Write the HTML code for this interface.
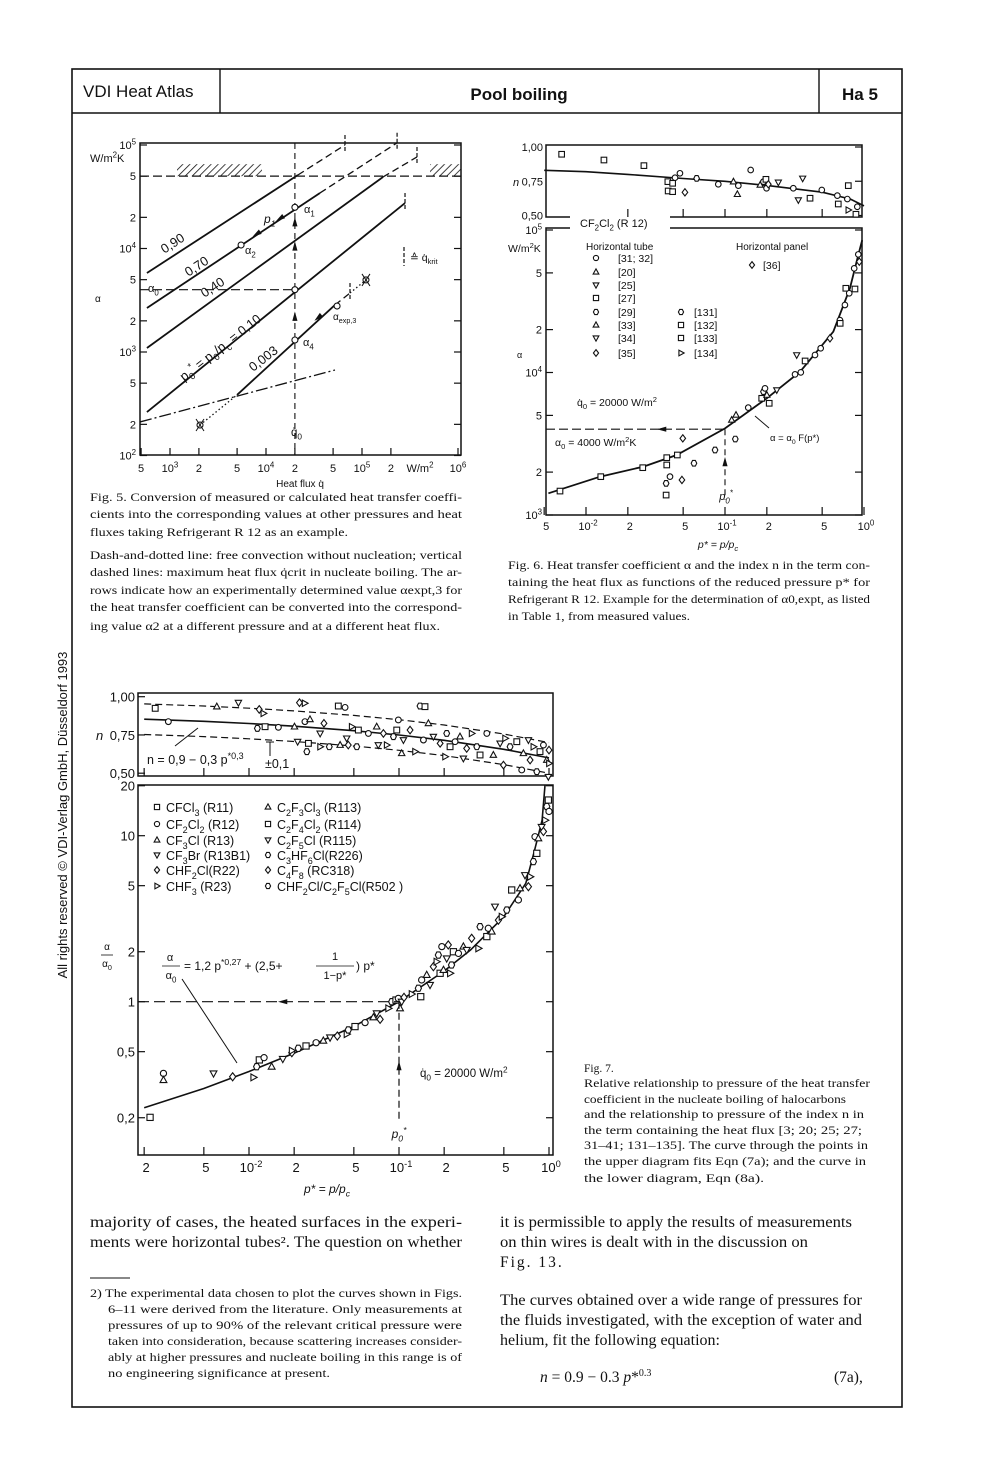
<!DOCTYPE html>
<html><head><meta charset="utf-8">
<style>
html,body{margin:0;padding:0;background:#fff;width:1000px;height:1473px;overflow:hidden}
svg text{font-family:"Liberation Sans",sans-serif;fill:#111}
svg text.serif{font-family:"Liberation Serif",serif}
</style></head>
<body>
<svg id="page" width="1000" height="1473" viewBox="0 0 1000 1473" xmlns="http://www.w3.org/2000/svg">
<defs>
<pattern id="hatch" patternUnits="userSpaceOnUse" width="5" height="5" patternTransform="rotate(45)">
<line x1="0" y1="0" x2="0" y2="5" stroke="#111" stroke-width="1.6"/>
</pattern>
</defs>
<rect x="72" y="69" width="830" height="1338" fill="none" stroke="#111" stroke-width="1.6"/>
<line x1="72" y1="113" x2="902" y2="113" stroke="#111" stroke-width="1.6"/>
<line x1="220" y1="69" x2="220" y2="113" stroke="#111" stroke-width="1.4"/>
<line x1="819" y1="69" x2="819" y2="113" stroke="#111" stroke-width="1.4"/>
<text x="83" y="97" font-size="17">VDI Heat Atlas</text>
<text x="519" y="100" font-size="17" font-weight="bold" text-anchor="middle">Pool boiling</text>
<text x="842" y="100" font-size="17" font-weight="bold">Ha 5</text>
<text transform="translate(67,815) rotate(-90)" font-size="13" text-anchor="middle" fill="#333">All rights reserved © VDI-Verlag GmbH, Düsseldorf 1993</text>

<g class="cap" font-size="12">
<text class="serif" x="90" y="501" textLength="372" lengthAdjust="spacingAndGlyphs">Fig. 5. Conversion of measured or calculated heat transfer coeffi-</text>
<text class="serif" x="90" y="518" textLength="372" lengthAdjust="spacingAndGlyphs">cients into the corresponding values at other pressures and heat</text>
<text class="serif" x="90" y="536" textLength="258" lengthAdjust="spacingAndGlyphs">fluxes taking Refrigerant R 12 as an example.</text>
<text class="serif" x="90" y="559" textLength="372" lengthAdjust="spacingAndGlyphs">Dash-and-dotted line: free convection without nucleation; vertical</text>
<text class="serif" x="90" y="576" textLength="372" lengthAdjust="spacingAndGlyphs">dashed lines: maximum heat flux q̇crit in nucleate boiling. The ar-</text>
<text class="serif" x="90" y="594" textLength="372" lengthAdjust="spacingAndGlyphs">rows indicate how an experimentally determined value αexpt,3 for</text>
<text class="serif" x="90" y="611" textLength="372" lengthAdjust="spacingAndGlyphs">the heat transfer coefficient can be converted into the correspond-</text>
<text class="serif" x="90" y="630" textLength="350" lengthAdjust="spacingAndGlyphs">ing value α2 at a different pressure and at a different heat flux.</text>
</g>
<g font-size="12">
<text class="serif" x="508" y="569" textLength="362" lengthAdjust="spacingAndGlyphs">Fig. 6. Heat transfer coefficient α and the index n in the term con-</text>
<text class="serif" x="508" y="586" textLength="362" lengthAdjust="spacingAndGlyphs">taining the heat flux as functions of the reduced pressure p* for</text>
<text class="serif" x="508" y="603" textLength="362" lengthAdjust="spacingAndGlyphs">Refrigerant R 12. Example for the determination of α0,expt, as listed</text>
<text class="serif" x="508" y="620" textLength="182" lengthAdjust="spacingAndGlyphs">in Table 1, from measured values.</text>
</g>
<g font-size="11.5">
<text class="serif" x="584" y="1072">Fig. 7.</text>
<text class="serif" x="584" y="1087" textLength="286" lengthAdjust="spacingAndGlyphs">Relative relationship to pressure of the heat transfer</text>
<text class="serif" x="584" y="1103" textLength="262" lengthAdjust="spacingAndGlyphs">coefficient in the nucleate boiling of halocarbons</text>
<text class="serif" x="584" y="1118" textLength="280" lengthAdjust="spacingAndGlyphs">and the relationship to pressure of the index n in</text>
<text class="serif" x="584" y="1134" textLength="278" lengthAdjust="spacingAndGlyphs">the term containing the heat flux [3; 20; 25; 27;</text>
<text class="serif" x="584" y="1149" textLength="284" lengthAdjust="spacingAndGlyphs">31–41; 131–135]. The curve through the points in</text>
<text class="serif" x="584" y="1165" textLength="282" lengthAdjust="spacingAndGlyphs">the upper diagram fits Eqn (7a); and the curve in</text>
<text class="serif" x="584" y="1182" textLength="180" lengthAdjust="spacingAndGlyphs">the lower diagram, Eqn (8a).</text>
</g>

<g font-size="15.5">
<text class="serif" x="90" y="1227" textLength="372" lengthAdjust="spacingAndGlyphs">majority of cases, the heated surfaces in the experi-</text>
<text class="serif" x="90" y="1247" textLength="372" lengthAdjust="spacingAndGlyphs">ments were horizontal tubes². The question on whether</text>
<line x1="90" y1="1278" x2="130" y2="1278" stroke="#111" stroke-width="1"/>
</g>
<g font-size="11.5">
<text class="serif" x="90" y="1297" textLength="372" lengthAdjust="spacingAndGlyphs">2) The experimental data chosen to plot the curves shown in Figs.</text>
<text class="serif" x="108" y="1313" textLength="354" lengthAdjust="spacingAndGlyphs">6–11 were derived from the literature. Only measurements at</text>
<text class="serif" x="108" y="1329" textLength="354" lengthAdjust="spacingAndGlyphs">pressures of up to 90% of the relevant critical pressure were</text>
<text class="serif" x="108" y="1345" textLength="354" lengthAdjust="spacingAndGlyphs">taken into consideration, because scattering increases consider-</text>
<text class="serif" x="108" y="1361" textLength="354" lengthAdjust="spacingAndGlyphs">ably at higher pressures and nucleate boiling in this range is of</text>
<text class="serif" x="108" y="1377" textLength="222" lengthAdjust="spacingAndGlyphs">no engineering significance at present.</text>
</g>
<g font-size="15.5">
<text class="serif" x="500" y="1227" textLength="352" lengthAdjust="spacingAndGlyphs">it is permissible to apply the results of measurements</text>
<text class="serif" x="500" y="1247" textLength="308" lengthAdjust="spacingAndGlyphs">on thin wires is dealt with in the discussion on</text>
<text class="serif" x="500" y="1267" letter-spacing="2">Fig. 13.</text>
<text class="serif" x="500" y="1305" textLength="362" lengthAdjust="spacingAndGlyphs">The curves obtained over a wide range of pressures for</text>
<text class="serif" x="500" y="1325" textLength="362" lengthAdjust="spacingAndGlyphs">the fluids investigated, with the exception of water and</text>
<text class="serif" x="500" y="1345" textLength="220" lengthAdjust="spacingAndGlyphs">helium, fit the following equation:</text>
<text class="serif" x="540" y="1382"><tspan font-style="italic">n</tspan> = 0.9 − 0.3 <tspan font-style="italic">p</tspan>*<tspan dy="-6" font-size="10">0.3</tspan></text>
<text class="serif" x="834" y="1382">(7a),</text>
</g>

<g id="fig5"></g>
<g id="fig6"></g>
<g id="fig7"></g>
</svg>

<script>
// ---------- Figure 5 data ----------
const f5LineLabels = ['0,90','0,70','0,40','0,10','0,003'];
const f5StartQ = [575,575,575,575,4990];
const f5StartA = [5800,2660,1094,263,385];
const f5SolidEndQ = [21500,36500,165600,280600,52300];
const f5SolidEndA = [51300,34400,49100,27500,2850];
const f5DashEndQ = [66500,232000,374000,280600,75000];
const f5DashEndA = [100000,105000,76600,27500,3715];
const f5PointQ = [20000,5500,20000,20000,55000];
const f5PointA = [25000,10800,4000,1306,2780];
const f5YTicks = [1e5,5e4,2e4,1e4,5e3,2e3,1e3,500,200,100];
const f5YLabels = ['10^{5}','5','2','10^{4}','5','2','10^{3}','5','2','10^{2}'];
const f5XTicks = [500,1e3,2e3,5e3,1e4,2e4,5e4,1e5,2e5,1e6];
const f5XLabels = ['5','10^{3}','2','5','10^{4}','2','5','10^{5}','2','10^{6}'];
const f5FreeConvQ = [487,52300];
const f5FreeConvA = [211,670];
const f5Q0 = 20000;
const f5Alpha0 = 4000;
const f5AlphaMaxLine = 50000;

// ---------- Figure 6 data ----------
const f6nP = [0.00668,0.01346,0.0261,0.0388,0.039,0.042,0.042,0.0437,0.0474,0.0515,0.0625,0.0895,0.115,0.1227,0.1247,0.153,0.179,0.189,0.197,0.199,0.205,0.242,0.31,0.337,0.362,0.409,0.497,0.643,0.653,0.759,0.771,0.771,0.875,0.895];
const f6nN = [0.947,0.905,0.864,0.747,0.679,0.674,0.735,0.776,0.808,0.669,0.771,0.728,0.747,0.655,0.718,0.832,0.723,0.747,0.764,0.699,0.728,0.742,0.699,0.613,0.771,0.626,0.686,0.645,0.584,0.620,0.718,0.54,0.509,0.564];
const f6nSym = ['s','s','s','s','s','s','s','o','o','d','h','o','t','t','o','o','t','o','s','o','d','v','o','v','v','s','o','o','s','o','s','r','s','o'];
const f6aP = [0.0065,0.01277,0.0256,0.0381,0.0381,0.0377,0.0377,0.0402,0.0454,0.0497,0.049,0.0598,0.0848,0.1117,0.12,0.1186,0.147,0.1837,0.189,0.194,0.2,0.208,0.2357,0.319,0.328,0.351,0.377,0.444,0.488,0.569,0.671,0.674,0.729,0.74,0.783,0.861,0.85,0.91,0.925];
const f6aA = [1472,1858,2148,2525,2244,1667,1380,1858,2637,3450,1762,2307,2858,4645,5035,3412,5666,6590,7335,7740,6950,6080,7530,9700,13270,10020,12050,13270,14790,17380,23330,22130,29780,38990,35980,38550,53800,67400,59950];
const f6aSym = ['s','s','s','s','s','h','s','o','s','d','d','h','h','t','t','h','o','s','h','o','t','s','v','o','v','o','s','o','o','d','o','s','o','s','o','s','o','o','d'];
const f6nCurveP = [0.005,0.01,0.02,0.05,0.1,0.2,0.5,0.8,1.0];
const f6nCurveN = [0.83,0.82,0.80,0.77,0.75,0.72,0.67,0.62,0.57];
const f6aCurveP = [0.00536,0.0126,0.0258,0.0449,0.1,0.2,0.347,0.601,0.792,0.91,0.97];
const f6aCurveA = [1420,1858,2183,2636,4055,6590,10130,19320,38990,66800,85000];
const f6XTicks = [0.005,0.01,0.02,0.05,0.1,0.2,0.5,1];
const f6XLabels = ['5','10^{-2}','2','5','10^{-1}','2','5','10^{0}'];
const f6nTicks = [1.0,0.75,0.5];
const f6nLabels = ['1,00','0,75','0,50'];
const f6aTicks = [1e5,5e4,2e4,1e4,5e3,2e3,1e3];
const f6aLabels = ['10^{5}','5','2','10^{4}','5','2','10^{3}'];
const f6P0 = 0.1;
const f6Alpha0 = 4000;

// ---------- Figure 7 data ----------
const f7aP = [0.00219,0.00269,0.00269,0.0058,0.00778,0.0107,0.01125,0.01172,0.0126,0.01416,0.0168,0.0193,0.0193,0.0213,0.024,0.028,0.0313,0.0347,0.0388,0.0448,0.0459,0.0509,0.0594,0.0675,0.071,0.0748,0.0849,0.0894,0.0955,0.099,0.1016,0.1042,0.108,0.1216,0.1346,0.1396,0.1416,0.153,0.161,0.1695,0.178,0.183,0.188,0.193,0.198,0.208,0.213,0.219,0.224,0.2305,0.249,0.2686,0.2826,0.305,0.338,0.347,0.385,0.394,0.415,0.4365,0.46,0.484,0.523,0.564,0.625,0.641,0.692,0.729,0.748,0.787,0.829,0.807,0.849,0.893,0.918,0.942,0.966,0.99,1.0];
const f7aR = [0.201,0.37,0.337,0.37,0.353,0.35,0.406,0.446,0.46,0.406,0.452,0.493,0.507,0.524,0.541,0.566,0.582,0.609,0.621,0.638,0.676,0.708,0.748,0.805,0.851,0.783,0.912,1.0,1.023,1.047,0.912,1.0,1.062,1.112,1.205,1.072,1.352,1.449,1.262,1.626,1.742,1.91,1.483,2.147,1.553,1.824,2.198,1.483,1.664,2.0,1.954,2.147,2.05,2.41,2.096,2.83,2.467,2.767,2.643,3.74,3.10,3.25,3.565,4.71,4.10,4.82,5.79,4.93,5.66,6.98,7.83,9.86,9.64,11.3,10.6,12.4,15.0,16.4,14.0];
const f7nP = [0.00237,0.0029,0.0061,0.0085,0.0117,0.01247,0.01137,0.0128,0.0157,0.0201,0.0211,0.0217,0.0235,0.0243,0.0249,0.0236,0.0255,0.0298,0.0316,0.0298,0.0343,0.0394,0.0437,0.0405,0.0448,0.0459,0.0484,0.0523,0.0536,0.0625,0.071,0.0728,0.0787,0.0828,0.0918,0.0966,0.099,0.1042,0.107,0.1185,0.128,0.138,0.149,0.1455,0.157,0.1695,0.188,0.203,0.208,0.219,0.2365,0.255,0.2686,0.2826,0.305,0.33,0.347,0.385,0.4256,0.472,0.497,0.51,0.55,0.61,0.658,0.675,0.729,0.748,0.787,0.829,0.871,0.918,0.966,0.99,1.0,1.0];
const f7nN = [0.924,0.837,0.935,0.961,0.917,0.891,0.793,0.804,0.800,0.804,0.706,0.961,0.957,0.641,0.695,0.837,0.852,0.760,0.826,0.673,0.673,0.939,0.930,0.684,0.728,0.684,0.804,0.673,0.782,0.760,0.804,0.684,0.760,0.684,0.739,0.782,0.848,0.630,0.717,0.782,0.641,0.939,0.935,0.717,0.826,0.739,0.695,0.608,0.760,0.673,0.706,0.739,0.597,0.662,0.760,0.673,0.619,0.760,0.619,0.695,0.553,0.728,0.673,0.706,0.521,0.630,0.717,0.586,0.673,0.510,0.641,0.684,0.586,0.477,0.651,0.564];
const f7nCurveP = [0.002,0.005,0.01,0.02,0.05,0.1,0.2,0.5,1.0];
const f7nCurveN = [0.853,0.839,0.825,0.807,0.778,0.75,0.715,0.656,0.6];
const f7nBand = 0.1;
const f7rCurveP = [0.002,0.005,0.01,0.02,0.05,0.1,0.2,0.3,0.5,0.7,0.8,0.9,0.95];
const f7rCurveR = [0.23,0.30,0.38,0.49,0.71,1.00,1.53,2.05,3.25,5.17,8.13,12.4,22.6];
const f7XTicks = [0.002,0.005,0.01,0.02,0.05,0.1,0.2,0.5,1];
const f7XLabels = ['2','5','10^{-2}','2','5','10^{-1}','2','5','10^{0}'];
const f7nTicks = [1.0,0.75,0.5];
const f7nLabels = ['1,00','0,75','0,50'];
const f7rTicks = [20,10,5,2,1,0.5,0.2];
const f7rLabels = ['20','10','5','2','1','0,5','0,2'];
const f7P0 = 0.1;

// ---------- helpers ----------
const NS = 'http://www.w3.org/2000/svg';
const INK = '#111';
function mk(tag, parent, attrs) {
  const e = document.createElementNS(NS, tag);
  for (const k in attrs) e.setAttribute(k, attrs[k]);
  parent.appendChild(e);
  return e;
}
function txt(parent, x, y, s, size, anchor, name, italic) {
  const t = mk('text', parent, {x: x, y: y, 'font-size': size, 'text-anchor': anchor || 'start'});
  
  
  if (italic) t.setAttribute('font-style', 'italic');
  const parts = s.split(/(\^\{[^}]*\}|_\{[^}]*\})/);
  let off = 0;
  parts.forEach(p => {
    if (!p) return;
    let target = 0, content = p, fs = size;
    if (p[0] === '^') { target = -size * 0.4; content = p.slice(2, -1); fs = size * 0.72; }
    else if (p[0] === '_') { target = size * 0.3; content = p.slice(2, -1); fs = size * 0.72; }
    const ts = mk('tspan', t, {dy: target - off, 'font-size': fs});
    ts.textContent = content;
    off = target;
  });
  return t;
}
function line(parent, x1, y1, x2, y2, name, dash, w) {
  const l = mk('line', parent, {x1: x1, y1: y1, x2: x2, y2: y2, stroke: INK, 'stroke-width': w || 1.2});
  if (dash) l.setAttribute('stroke-dasharray', dash);
  
  
  return l;
}
function polyline(parent, pts, name, dash, w) {
  const p = mk('polyline', parent, {points: pts.map(q => q[0].toFixed(1) + ',' + q[1].toFixed(1)).join(' '), fill: 'none', stroke: INK, 'stroke-width': w || 1.5});
  if (dash) p.setAttribute('stroke-dasharray', dash);
  
  
  return p;
}
function rectFrame(parent, x, y, w, h, name) {
  const r = mk('rect', parent, {x: x, y: y, width: w, height: h, fill: 'none', stroke: INK, 'stroke-width': 1.5});
  
  
  return r;
}
function arrow(parent, x, y, ang, name) {
  const s = 5, a = ang * Math.PI / 180;
  const pts = [[x + Math.cos(a) * s, y + Math.sin(a) * s],
    [x + Math.cos(a + 2.6) * s, y + Math.sin(a + 2.6) * s],
    [x + Math.cos(a - 2.6) * s, y + Math.sin(a - 2.6) * s]];
  const p = mk('polygon', parent, {points: pts.map(q => q.join(',')).join(' '), fill: INK});
  
  
}
function marker(parent, type, x, y, s, name) {
  let e;
  const st = {fill: '#fff', stroke: INK, 'stroke-width': 1.1};
  if (type === 'o') e = mk('circle', parent, Object.assign({cx: x, cy: y, r: s}, st));
  else if (type === 's') e = mk('rect', parent, Object.assign({x: x - s, y: y - s, width: 2 * s, height: 2 * s}, st));
  else {
    let pts;
    if (type === 't') pts = [[x, y - s * 1.2], [x + s * 1.1, y + s * 0.8], [x - s * 1.1, y + s * 0.8]];
    else if (type === 'v') pts = [[x, y + s * 1.2], [x + s * 1.1, y - s * 0.8], [x - s * 1.1, y - s * 0.8]];
    else if (type === 'd') pts = [[x, y - s * 1.3], [x + s, y], [x, y + s * 1.3], [x - s, y]];
    else if (type === 'r') pts = [[x + s * 1.2, y], [x - s * 0.8, y - s * 1.1], [x - s * 0.8, y + s * 1.1]];
    else pts = [[x - s * 0.5, y - s], [x + s * 0.5, y - s], [x + s, y], [x + s * 0.5, y + s], [x - s * 0.5, y + s], [x - s, y]];
    e = mk('polygon', parent, Object.assign({points: pts.map(q => q.join(',')).join(' ')}, st));
  }
  
  
  return e;
}
const L = Math.log10;

// ================= FIGURE 5 =================
(function () {
  const g = document.getElementById('fig5');
  const X = q => 170 + (L(q) - 3) * 96;
  const Y = a => 145 + (5 - L(a)) * 103.5;
  const left = 140, right = 461, top = 143, bottom = 455;
  const h1 = mk('rect', g, {x: 177, y: Y(f5AlphaMaxLine) - 12, width: 85, height: 12, fill: 'url(#hatch)'});
  
  
  const h2 = mk('rect', g, {x: 430, y: Y(f5AlphaMaxLine) - 12, width: 31, height: 12, fill: 'url(#hatch)'});
  
  
  line(g, left, Y(f5AlphaMaxLine), right, Y(f5AlphaMaxLine), 'alpha-limit-dashed-line', '9,4', 1.2);
  rectFrame(g, left, top, right - left, bottom - top, 'fig5-plot-frame');
  f5YTicks.forEach((v, i) => {
    line(g, left, Y(v), left + 7, Y(v), 'y-tick', null, 1.2);
    line(g, right - 7, Y(v), right, Y(v), 'y-tick-right', null, 1.2);
    txt(g, 136, Y(v) + 4, f5YLabels[i], 11, 'end', 'y-tick-label');
  });
  f5XTicks.forEach((v, i) => {
    line(g, X(v), bottom, X(v), bottom - 7, 'x-tick', null, 1.2);
    txt(g, X(v), 472, f5XLabels[i], 11, 'middle', 'x-tick-label');
  });
  txt(g, 420, 472, 'W/m^{2}', 11, 'middle', 'x-unit-label');
  txt(g, 300, 487, 'Heat flux q̇', 10, 'middle', 'x-axis-title');
  txt(g, 90, 162, 'W/m^{2}K', 11, 'start', 'y-unit-label');
  txt(g, 95, 302, 'α', 10, 'start', 'y-axis-title');
  line(g, X(f5Q0), top, X(f5Q0), bottom, 'q0-dashed-line', '6,4', 1.1);
  line(g, left, Y(f5Alpha0), X(f5Q0), Y(f5Alpha0), 'alpha0-dashed-line', '9,4', 1.1);
  f5LineLabels.forEach((lab, i) => {
    line(g, X(f5StartQ[i]), Y(f5StartA[i]), X(f5SolidEndQ[i]), Y(f5SolidEndA[i]), 'pressure-line-' + lab, null, 1.8);
    if (f5DashEndQ[i] !== f5SolidEndQ[i]) line(g, X(f5SolidEndQ[i]), Y(f5SolidEndA[i]), X(f5DashEndQ[i]), Y(f5DashEndA[i]), 'pressure-line-extension', '7,4', 1.3);
    line(g, X(f5DashEndQ[i]), Y(f5DashEndA[i]) - 10, X(f5DashEndQ[i]), Y(f5DashEndA[i]) + 8, 'qcrit-marker', '4,2', 1.2);
  });
  line(g, X(f5FreeConvQ[0]), Y(f5FreeConvA[0]), X(f5FreeConvQ[1]), Y(f5FreeConvA[1]), 'free-convection-line', '12,3,2,3', 1.3);
  line(g, X(2054), Y(197), X(f5StartQ[4]), Y(f5StartA[4]), 'dotted-transition-line', '1.5,2.5', 1.3);
  line(g, X(f5DashEndQ[4]), Y(f5DashEndA[4]), X(110000), Y(4970), 'dotted-extension-line', '1.5,2.5', 1.3);
  [[2054, 197], [110000, 4970]].forEach(p => {
    marker(g, 'o', X(p[0]), Y(p[1]), 3, 'crossed-point');
    line(g, X(p[0]) - 4, Y(p[1]) - 6, X(p[0]) + 4, Y(p[1]) + 6, 'cross-stroke', null, 1);
    line(g, X(p[0]) + 4, Y(p[1]) - 6, X(p[0]) - 4, Y(p[1]) + 6, 'cross-stroke', null, 1);
  });
  const ptNames = ['alpha-1-point', 'alpha-2-point', 'alpha-0-point', 'alpha-4-point', 'alpha-exp3-point'];
  f5PointQ.forEach((q, i) => marker(g, 'o', X(q), Y(f5PointA[i]), 3, ptNames[i]));
  arrow(g, X(f5Q0), Y(2200), -90, 'conversion-arrow');
  arrow(g, X(f5Q0), Y(10500), -90, 'conversion-arrow');
  arrow(g, X(f5Q0), Y(18000), -90, 'conversion-arrow');
  arrow(g, X(14000), Y(19500), 147, 'conversion-arrow');
  arrow(g, X(8000), Y(13800), 147, 'conversion-arrow');
  arrow(g, X(35000), Y(2150), 140, 'conversion-arrow');
  const lab = (x, y, s, rot, name, size) => {
    const t = txt(g, x, y, s, size || 13, 'middle', name);
    if (rot) t.setAttribute('transform', 'rotate(' + rot + ' ' + x + ' ' + y + ')');
  };
  lab(175, 247, '0,90', -33, 'line-label-0.90');
  lab(199, 270, '0,70', -33, 'line-label-0.70');
  lab(215, 291, '0,40', -33, 'line-label-0.40');
  lab(223, 351, 'p_{0}^{*} = p_{0}/p_{c} = 0,10', -38, 'line-label-0.10');
  lab(266, 362, '0,003', -38, 'line-label-0.003');
  txt(g, 264, 223, 'p_{1}', 12, 'start', 'p1-label', true);
  txt(g, 304, 213, 'α_{1}', 11, 'start', 'alpha1-label');
  txt(g, 245, 254, 'α_{2}', 11, 'start', 'alpha2-label');
  txt(g, 148, 292, 'α_{0}', 11, 'start', 'alpha0-label');
  txt(g, 303, 346, 'α_{4}', 11, 'start', 'alpha4-label');
  txt(g, 333, 320, 'α_{exp,3}', 10, 'start', 'alpha-exp3-label');
  txt(g, 291, 436, 'q̇_{0}', 11.5, 'start', 'q0-label');
  line(g, 404, 247, 404, 266, 'qcrit-legend-marker', '4,2', 1.2);
  txt(g, 410, 261, '≙ q̇_{krit}', 10.5, 'start', 'qcrit-legend-label');
})();

// ================= FIGURE 6 =================
(function () {
  const g = document.getElementById('fig6');
  const X = p => 725 + (L(p) + 1) * 139;
  const Yn = n => 147 + (1 - n) * 137;
  const Ya = a => 515 - (L(a) - 3) * 142.5;
  const left = 546, right = 862;
  rectFrame(g, left, 145, right - left, 72, 'fig6-n-panel-frame');
  rectFrame(g, left, 228, right - left, 287, 'fig6-alpha-panel-frame');
  const bg = mk('rect', g, {x: 570, y: 214, width: 100, height: 16, fill: '#fff'});
  
  
  txt(g, 580, 227, 'CF_{2}Cl_{2} (R 12)', 11, 'start', 'fluid-label');
  f6nTicks.forEach((v, i) => {
    line(g, right - 7, Yn(v), right, Yn(v), 'n-tick', null, 1.2);
    txt(g, 543, Yn(v) + 4, f6nLabels[i], 11, 'end', 'n-tick-label');
  });
  [0.02, 0.05, 0.1, 0.2, 0.5].forEach(v => line(g, X(v), 217, X(v), 209, 'n-panel-x-tick', null, 1.2));
  txt(g, 513, 186, 'n', 11, 'start', 'n-axis-title', true);
  f6aTicks.forEach((v, i) => {
    line(g, left, Ya(v), left + 7, Ya(v), 'alpha-tick', null, 1.2);
    line(g, right - 7, Ya(v), right, Ya(v), 'alpha-tick-right', null, 1.2);
    txt(g, 542, Ya(v) + 4, f6aLabels[i], 11, 'end', 'alpha-tick-label');
  });
  txt(g, 508, 252, 'W/m^{2}K', 10.5, 'start', 'alpha-unit-label');
  txt(g, 517, 358, 'α', 9, 'start', 'alpha-axis-title');
  f6XTicks.forEach((v, i) => {
    line(g, X(v), 515, X(v), 507, 'x-tick', null, 1.2);
    txt(g, X(v) + 2, 530, f6XLabels[i], 11, 'middle', 'x-tick-label');
  });
  txt(g, 718, 548, 'p* = p/p_{c}', 10.5, 'middle', 'x-axis-title', true);
  polyline(g, f6nCurveP.map((p, i) => [X(p), Yn(f6nCurveN[i])]), 'n-fit-curve', null, 1.6);
  polyline(g, f6aCurveP.map((p, i) => [X(p), Ya(f6aCurveA[i])]), 'alpha-fit-curve', null, 1.8);
  f6nP.forEach((p, i) => marker(g, f6nSym[i], X(p), Yn(f6nN[i]), 2.8, 'n-data-point'));
  f6aP.forEach((p, i) => marker(g, f6aSym[i], X(p), Ya(f6aA[i]), 2.8, 'alpha-data-point'));
  line(g, left, Ya(f6Alpha0), X(f6P0), Ya(f6Alpha0), 'alpha0-dashed-line', '9,4', 1.1);
  arrow(g, 662, Ya(f6Alpha0), 180, 'alpha0-arrow');
  line(g, X(f6P0), Ya(f6Alpha0), X(f6P0), 500, 'p0-dashed-line', '6,4', 1.1);
  arrow(g, X(f6P0), 462, -90, 'p0-arrow');
  txt(g, 726, 500, 'p_{0}^{*}', 11, 'middle', 'p0-label', true);
  txt(g, 577, 406, 'q̇_{0} = 20000 W/m^{2}', 10.5, 'start', 'q0-label');
  txt(g, 555, 446, 'α_{0} = 4000 W/m^{2}K', 10.5, 'start', 'alpha0-label');
  line(g, 755, 416, 769, 428, 'fit-label-leader', null, 1);
  txt(g, 770, 441, 'α = α_{0} F(p*)', 9.5, 'start', 'fit-curve-label');
  txt(g, 586, 250, 'Horizontal tube', 10, 'start', 'legend-heading-tube');
  txt(g, 736, 250, 'Horizontal panel', 10, 'start', 'legend-heading-panel');
  const legL = [['o', '[31; 32]'], ['t', '[20]'], ['v', '[25]'], ['s', '[27]'], ['h', '[29]'], ['t', '[33]'], ['v', '[34]'], ['d', '[35]']];
  const legY = [262, 276, 289, 302, 316, 329, 342, 357];
  legL.forEach((e, i) => {
    marker(g, e[0], 596, legY[i] - 4, 2.6, 'legend-symbol');
    txt(g, 618, legY[i], e[1], 10.5, 'start', 'legend-entry');
  });
  const legR = [['l', '[131]'], ['s', '[132]'], ['s', '[133]'], ['r', '[134]']];
  legR.forEach((e, i) => {
    marker(g, e[0], 681, legY[i + 4] - 4, 2.6, 'legend-symbol');
    txt(g, 694, legY[i + 4], e[1], 10.5, 'start', 'legend-entry');
  });
  marker(g, 'd', 752, 265, 2.6, 'legend-symbol');
  txt(g, 763, 269, '[36]', 10.5, 'start', 'legend-entry');
})();

// ================= FIGURE 7 =================
(function () {
  const g = document.getElementById('fig7');
  const X = p => 399 + (L(p) + 1) * 150;
  const Yn = n => 696.7 + (1 - n) * 153;
  const Yr = r => 1001.7 - L(r) * 166;
  const left = 138, right = 553;
  rectFrame(g, left, 693, right - left, 83, 'fig7-n-panel-frame');
  rectFrame(g, left, 785, right - left, 370, 'fig7-ratio-panel-frame');
  f7nTicks.forEach((v, i) => {
    line(g, left, Yn(v), left + 7, Yn(v), 'n-tick', null, 1.2);
    txt(g, 135, Yn(v) + 5, f7nLabels[i], 13, 'end', 'n-tick-label');
  });
  txt(g, 96, 740, 'n', 13, 'start', 'n-axis-title', true);
  f7rTicks.forEach((v, i) => {
    line(g, left, Yr(v), left + 7, Yr(v), 'ratio-tick', null, 1.2);
    line(g, right - 7, Yr(v), right, Yr(v), 'ratio-tick-right', null, 1.2);
    txt(g, 135, Yr(v) + 5, f7rLabels[i], 13, 'end', 'ratio-tick-label');
  });
  txt(g, 107, 950, 'α', 10, 'middle', 'ratio-axis-title-num');
  line(g, 101, 955, 113, 955, 'ratio-axis-title-bar', null, 0.8);
  txt(g, 107, 967, 'α_{0}', 10, 'middle', 'ratio-axis-title-den');
  f7XTicks.forEach((v, i) => {
    line(g, X(v), 1155, X(v), 1147, 'x-tick', null, 1.2);
    line(g, X(v), 776, X(v), 768, 'n-panel-x-tick', null, 1.2);
    txt(g, X(v) + 2, 1172, f7XLabels[i], 13, 'middle', 'x-tick-label');
  });
  txt(g, 327, 1193, 'p* = p/p_{c}', 12, 'middle', 'x-axis-title', true);
  polyline(g, f7nCurveP.map((p, i) => [X(p), Yn(f7nCurveN[i])]), 'n-fit-curve', null, 1.6);
  polyline(g, f7nCurveP.map((p, i) => [X(p), Yn(f7nCurveN[i] + f7nBand)]), 'n-upper-band', '7,4', 1.2);
  polyline(g, f7nCurveP.map((p, i) => [X(p), Yn(f7nCurveN[i] - f7nBand)]), 'n-lower-band', '7,4', 1.2);
  const clip = mk('clipPath', g, {id: 'f7clip'});
  mk('rect', clip, {x: left, y: 785, width: right - left, height: 370});
  const cg = mk('g', g, {'clip-path': 'url(#f7clip)'});
  
  
  polyline(cg, f7rCurveP.map((p, i) => [X(p), Yr(f7rCurveR[i])]), 'ratio-fit-curve', null, 1.6);
  const sym = 'sotvdrh';
  f7nP.forEach((p, i) => marker(g, sym[i % 7], X(p), Yn(f7nN[i]), 2.9, 'n-data-point'));
  f7aP.forEach((p, i) => marker(cg, sym[i % 7], X(p), Yr(f7aR[i]), 3.1, 'ratio-data-point'));
  line(g, left, Yr(1), X(f7P0), Yr(1), 'unity-dashed-line', '11,5', 1.2);
  arrow(g, 283, Yr(1), 180, 'unity-arrow');
  line(g, X(f7P0), Yr(1), X(f7P0), 1120, 'p0-dashed-line', '7,4', 1.2);
  arrow(g, X(f7P0), 1066, -90, 'p0-arrow');
  txt(g, 399, 1138, 'p_{0}^{*}', 12, 'middle', 'p0-label', true);
  txt(g, 420, 1077, 'q̇_{0} = 20000 W/m^{2}', 11.5, 'start', 'q0-label');
  txt(g, 170, 961, 'α', 11, 'middle', 'formula-num');
  line(g, 162, 966, 180, 966, 'formula-bar', null, 0.8);
  txt(g, 171, 979, 'α_{0}', 11, 'middle', 'formula-den');
  txt(g, 184, 970, '= 1,2 p^{*0,27} + (2,5+', 12, 'start', 'ratio-formula');
  txt(g, 335, 960, '1', 11, 'middle', 'formula-frac-num');
  line(g, 316, 966, 354, 966, 'formula-frac-bar', null, 0.8);
  txt(g, 335, 979, '1−p*', 11, 'middle', 'formula-frac-den');
  txt(g, 356, 970, ') p*', 12, 'start', 'ratio-formula-end');
  line(g, 182, 979, 237, 1063, 'formula-leader', null, 1);
  line(g, 175, 746, 198, 728, 'n-formula-leader', null, 1);
  txt(g, 147, 764, 'n = 0,9 − 0,3 p^{*0,3}', 12.5, 'start', 'n-formula');
  line(g, 270, 742, 270, 756, 'band-marker', null, 1);
  line(g, 266, 742, 274, 742, 'band-marker-cap', null, 1);
  txt(g, 265, 768, '±0,1', 12.5, 'start', 'band-label');
  const leg1 = [['s', 'CFCl_{3} (R11)'], ['o', 'CF_{2}Cl_{2} (R12)'], ['t', 'CF_{3}Cl (R13)'], ['v', 'CF_{3}Br (R13B1)'], ['d', 'CHF_{2}Cl(R22)'], ['r', 'CHF_{3} (R23)']];
  const leg2 = [['t', 'C_{2}F_{3}Cl_{3} (R113)'], ['s', 'C_{2}F_{4}Cl_{2} (R114)'], ['v', 'C_{2}F_{5}Cl (R115)'], ['h', 'C_{3}HF_{6}Cl(R226)'], ['d', 'C_{4}F_{8} (RC318)'], ['h', 'CHF_{2}Cl/C_{2}F_{5}Cl(R502 )']];
  const legY = [812, 829, 845, 860, 875, 891];
  leg1.forEach((e, i) => {
    marker(g, e[0], 157, legY[i] - 5, 2.6, 'legend-symbol');
    txt(g, 166, legY[i], e[1], 12.5, 'start', 'legend-entry');
  });
  leg2.forEach((e, i) => {
    marker(g, e[0], 268, legY[i] - 5, 2.6, 'legend-symbol');
    txt(g, 277, legY[i], e[1], 12.5, 'start', 'legend-entry');
  });
})();
</script>
</body></html>
